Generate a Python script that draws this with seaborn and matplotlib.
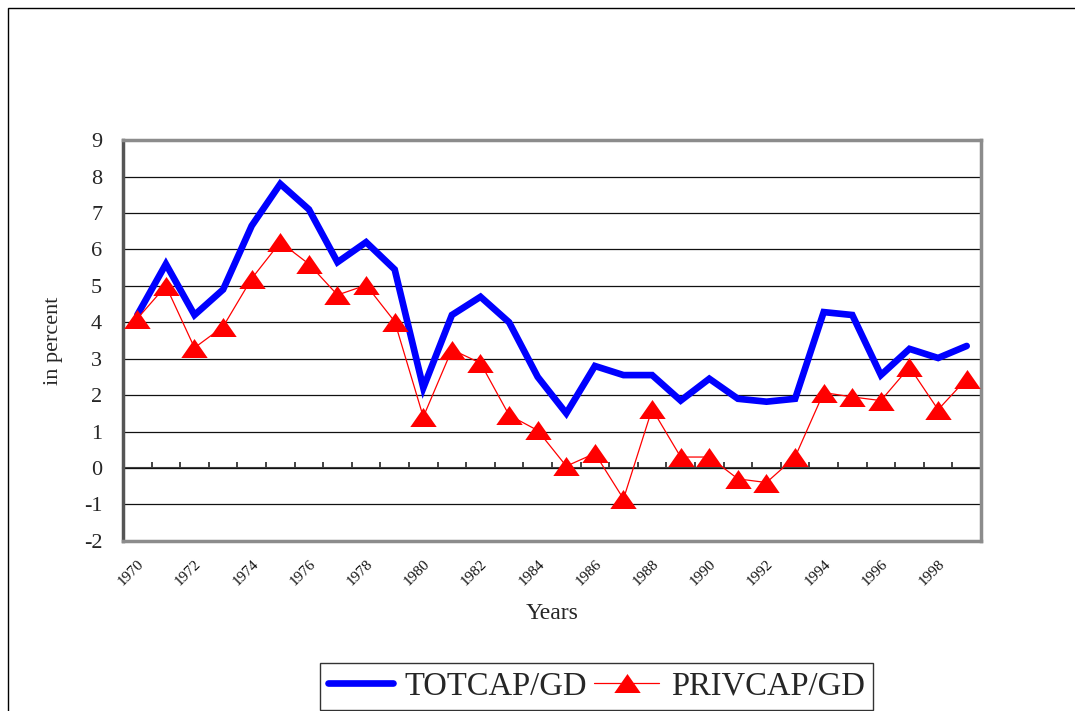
import matplotlib
matplotlib.use("Agg")
import matplotlib.pyplot as plt
import seaborn as sns
import pandas as pd
from matplotlib.patches import Rectangle

# ---- data ----
years = list(range(1970, 2000))
totcap = [4.2, 5.6, 4.2, 4.9, 6.65, 7.8, 7.1, 5.65, 6.2, 5.45,
          2.2, 4.2, 4.7, 4.0, 2.5, 1.5, 2.8, 2.55, 2.55, 1.85,
          2.45, 1.9, 1.82, 1.9, 4.28, 4.2, 2.55, 3.27, 3.02, 3.35]
privcap = [4.1, 5.0, 3.3, 3.88, 5.2, 6.2, 5.6, 4.75, 5.02, 4.02,
           1.4, 3.25, 2.88, 1.45, 1.03, 0.05, 0.4, -0.85, 1.62, 0.3,
           0.3, -0.3, -0.4, 0.3, 2.07, 1.95, 1.85, 2.77, 1.6, 2.45]
label_years = years[::2]
y_ticks = list(range(-2, 10))
series_names = ["TOTCAP/GD", "PRIVCAP/GD"]

sns.set_style("white")
plt.rcParams["font.family"] = ["Liberation Serif", "DejaVu Serif"]

W, H = 1075, 711
fig = plt.figure(figsize=(W / 100, H / 100), dpi=100)
left, right, top, bottom = 123, 981, 140.2, 540.8
ax = fig.add_axes([left / W, 1 - bottom / H, (right - left) / W, (bottom - top) / H])

df = pd.DataFrame({"year": years, "tot": totcap, "priv": privcap})

tri = [(0, 0.72), (-1, -0.72), (1, -0.72)]
sns.lineplot(data=df, x="year", y="tot", ax=ax, color="#0000ff", lw=4.8,
             solid_joinstyle="miter", label=series_names[0], zorder=3)
sns.lineplot(data=df, x="year", y="priv", ax=ax, color="#ff0000", lw=0.9,
             marker=tri, markersize=19, markeredgewidth=0,
             label=series_names[1], zorder=4)

ax.set_xlim(years[0] - 0.5, years[-1] + 0.5)
ax.set_ylim(-2, 9)
ax.set_yticks(y_ticks)
ax.set_yticklabels([str(v) for v in y_ticks])
ax.grid(axis="y", color="#111111", lw=0.9)
ax.grid(axis="x", visible=False)
ax.set_axisbelow(True)

ax.set_xticks(label_years)
ax.set_xticklabels([str(y) for y in label_years], rotation=45, ha="right",
                   rotation_mode="anchor", fontsize=11, color="#111111")
ax.tick_params(axis="x", length=0, pad=12)
ax.tick_params(axis="y", direction="in", length=8, width=1.5, color="#333333",
               pad=15, labelsize=16)

for s in ["top", "right", "bottom"]:
    ax.spines[s].set_color("#8c8c8c")
    ax.spines[s].set_linewidth(2.5)
ax.spines["left"].set_color("#555555")
ax.spines["left"].set_linewidth(2.5)

# category axis crossing at zero with boundary ticks
sec = ax.secondary_xaxis(0, transform=ax.transData)
sec.set_xticks([y + 0.5 for y in years])
sec.set_xticklabels([])
sec.tick_params(direction="in", length=4, width=1.2, color="#222222")
sec.spines["bottom"].set_color("#444444")
sec.spines["bottom"].set_linewidth(1.5)

ax.set_xlabel("Years", fontsize=17)
ax.xaxis.set_label_coords(0.5, -0.155)
ax.set_ylabel("in percent", fontsize=16)
ax.yaxis.set_label_coords(-0.07, 0.5)

leg = ax.legend(loc="upper left", bbox_to_anchor=(320 / W, 1 - 663 / H),
                bbox_transform=fig.transFigure, ncol=2, fontsize=23.5,
                frameon=True, fancybox=False, edgecolor="black",
                handlelength=2.0, handletextpad=0.35, columnspacing=0.2,
                borderpad=0.25, borderaxespad=0)
leg.get_frame().set_linewidth(1.0)

# outer chart border (top and left visible)
fig.patches.append(Rectangle((8 / W, -0.2), 1.5, 1.2 - 8 / H,
                             transform=fig.transFigure, fill=False,
                             edgecolor="black", lw=1.0))

fig.savefig("out.png", dpi=100)
